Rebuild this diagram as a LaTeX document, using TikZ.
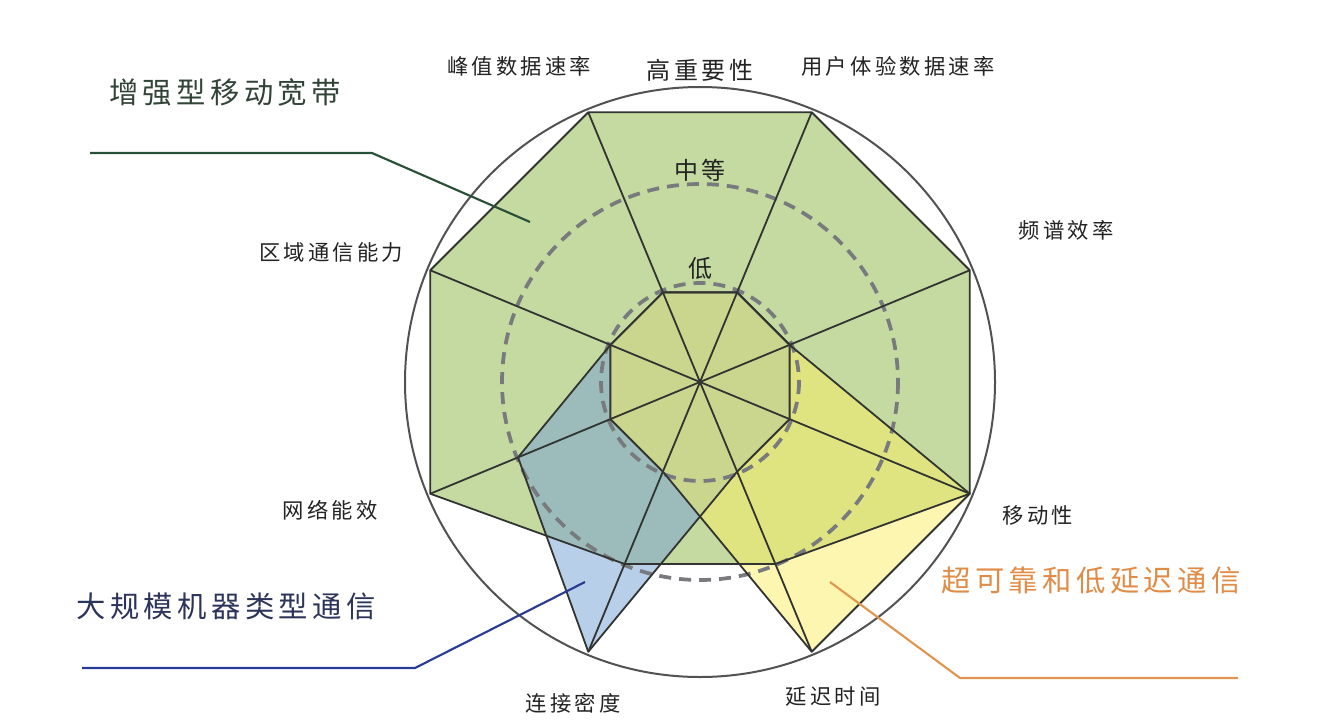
\documentclass[tikz,border=0pt]{standalone}
\usepackage{fontspec}
\newfontfamily\cjk[LetterSpace=15]{Noto Sans CJK SC}
\usetikzlibrary{calc}
\definecolor{embbfill}{RGB}{196,218,160}
\definecolor{mmtcfill}{RGB}{115,160,212}
\definecolor{urllcfill}{RGB}{250,238,100}
\definecolor{edgegray}{RGB}{50,52,50}
\definecolor{dashgray}{RGB}{120,122,125}
\definecolor{txtgray}{RGB}{35,35,35}
\definecolor{embbtxt}{RGB}{50,68,56}
\definecolor{embbln}{RGB}{40,80,55}
\definecolor{mmtctxt}{RGB}{45,52,90}
\definecolor{mmtcln}{RGB}{40,60,150}
\definecolor{urllctxt}{RGB}{225,140,70}
\definecolor{urllcln}{RGB}{225,150,80}
\tikzset{
  polyedge/.style={draw=edgegray, line width=1.35pt, line join=round},
  spoke/.style={draw=edgegray, line width=1.35pt},
  levelring/.style={draw=dashgray, line width=2.8pt, dash pattern=on 9pt off 6pt},
  outerring/.style={draw=edgegray!85, line width=1.5pt},
  axlbl/.style={text=txtgray, font=\cjk\fontsize{16}{19}\selectfont, inner sep=0pt},
  lvllbl/.style={text=txtgray, font=\cjk\fontsize{18}{21}\selectfont, inner sep=0pt},
  catlbl/.style={font=\cjk\fontsize{22}{26}\selectfont, inner sep=0pt},
  leader/.style={line width=1.6pt}
}
\begin{document}
\begin{tikzpicture}[x=0.75pt,y=-0.75pt]
\useasboundingbox (0,0) rectangle (1321,725);
\fill[white] (0,0) rectangle (1321,725);
\coordinate (C) at (700,382);
\foreach \n/\a in {pk/-112.5, ue/-67.5, se/-22.5, mo/22.5, la/67.5, cd/112.5, ne/157.5, ar/202.5}{
  \coordinate (\n H) at ($(C)+(\a:292)$);
  \coordinate (\n M) at ($(C)+(\a:197)$);
  \coordinate (\n L) at ($(C)+(\a:97)$);
}
% fills
\fill[embbfill] (pkH) -- (ueH) -- (seH) -- (moH) -- (laM) -- (cdM) -- (neH) -- (arH) -- cycle;
\fill[mmtcfill, fill opacity=0.5] (pkL) -- (ueL) -- (seL) -- (moL) -- (laL) -- (cdH) -- (neM) -- (arL) -- cycle;
\fill[urllcfill, fill opacity=0.5] (pkL) -- (ueL) -- (seL) -- (moH) -- (laH) -- (cdL) -- (neL) -- (arL) -- cycle;
% level rings
\draw[levelring] (C) circle (198);
\draw[levelring] (C) circle (99);
% outlines
\draw[polyedge] (pkH) -- (ueH) -- (seH) -- (moH) -- (laM) -- (cdM) -- (neH) -- (arH) -- cycle;
\draw[polyedge] (pkL) -- (ueL) -- (seL) -- (moL) -- (laL) -- (cdH) -- (neM) -- (arL) -- cycle;
\draw[polyedge] (pkL) -- (ueL) -- (seL) -- (moH) -- (laH) -- (cdL) -- (neL) -- (arL) -- cycle;
\foreach \n in {pk,ue,se,mo,la,cd,ne,ar}{
  \draw[spoke] (C) -- (\n H);
}
\draw[outerring] (C) circle (295);
% axis labels
\node[axlbl] (tpk) at (519,66) {峰值数据速率};
\node[axlbl] (tue) at (898,66) {用户体验数据速率};
\node[axlbl] (tse) at (1066,230) {频谱效率};
\node[axlbl] (tmo) at (1038,515) {移动性};
\node[axlbl] (tla) at (833,697) {延迟时间};
\node[axlbl] (tcd) at (573,703) {连接密度};
\node[axlbl] (tne) at (330,510) {网络能效};
\node[axlbl] (tar) at (331,252) {区域通信能力};
% level labels
\node[lvllbl] (thigh) at (700,70) {高重要性};
\node[lvllbl] (tmid) at (700,170) {中等};
\node[lvllbl] (tlow) at (700,268) {低};
% category labels
\node[catlbl, text=embbtxt] (cembb) at (225,92) {增强型移动宽带};
\node[catlbl, text=mmtctxt] (cmmtc) at (226,606) {大规模机器类型通信};
\node[catlbl, text=urllctxt] (curllc) at (1091,580) {超可靠和低延迟通信};
% leader lines
\coordinate (ea) at (90,153);
\coordinate (eb) at (372,153);
\coordinate (ec) at (530,222);
\draw[leader, embbln] (ea) -- (eb) -- (ec);
\coordinate (ma) at (82,668);
\coordinate (mb) at (415,668);
\coordinate (mc) at (585,582);
\draw[leader, mmtcln] (ma) -- (mb) -- (mc);
\coordinate (ua) at (1238,678);
\coordinate (ub) at (960,678);
\coordinate (uc) at (830,582);
\draw[leader, urllcln] (ua) -- (ub) -- (uc);
\end{tikzpicture}
\end{document}
